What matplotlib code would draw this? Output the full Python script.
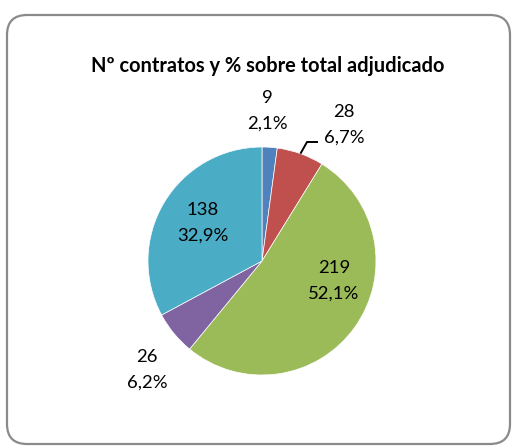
import numpy as np
import matplotlib
matplotlib.use("Agg")
import matplotlib.pyplot as plt
from matplotlib.patches import FancyBboxPatch

# Data
categories = ["A", "B", "C", "D", "E"]
counts = [9, 28, 219, 26, 138]
pct_labels = ["2,1%", "6,7%", "52,1%", "6,2%", "32,9%"]
colors = ["#4F81BD", "#C0504D", "#9BBB59", "#8064A2", "#4BACC6"]
title = "Nº contratos y % sobre total adjudicado"

W, H = 517, 448
fig = plt.figure(figsize=(W / 100, H / 100), dpi=100)
fig.patch.set_facecolor("white")

ax = fig.add_axes([0, 0, 1, 1])
ax.set_xlim(0, W)
ax.set_ylim(0, H)
ax.set_aspect("equal")
ax.axis("off")

# Rounded border (pixel coords)
border = FancyBboxPatch((7, H - 444), 503, 429,
                        boxstyle="round,pad=0,rounding_size=20",
                        fill=False, edgecolor="#8A8A8A", linewidth=1.6,
                        clip_on=False)
ax.add_patch(border)

cx, cy, r = 262, H - 261, 114
wedges, _ = ax.pie(counts, colors=colors, startangle=90, counterclock=False,
                   center=(cx, cy), radius=r, frame=True,
                   wedgeprops=dict(edgecolor="white", linewidth=0.5))
ax.set_xlim(0, W)
ax.set_ylim(0, H)
ax.axis("off")

font = "Lato"
renderer = fig.canvas.get_renderer()


def fit_size(s, target_w, weight="normal", base=12):
    t = ax.text(0, 0, s, fontsize=base, family=font, fontweight=weight)
    w = t.get_window_extent(renderer).width
    t.remove()
    return base * target_w / w


title_fs = fit_size(title, 350, "bold")
ax.text(268, H - 72, title, ha="center", va="baseline", fontsize=title_fs,
        fontweight="bold", family=font)

lab_fs = fit_size("52,1%", 51)

# label line baselines (x center, baseline y of first line from top)
label_pos = [(267, 103), (344, 117), (334, 273), (147, 362), (203, 215)]
for n, p, (lx, ly) in zip(counts, pct_labels, label_pos):
    ax.text(lx, H - ly, f"{n}", ha="center", va="baseline",
            fontsize=lab_fs, family=font, color="black")
    ax.text(lx, H - ly - 26, p, ha="center", va="baseline",
            fontsize=lab_fs, family=font, color="black")

# leader line for second slice
w = wedges[1]
mid = np.deg2rad((w.theta1 + w.theta2) / 2)
sx, sy = cx + r * np.cos(mid), cy + r * np.sin(mid)
ax.plot([sx, 307, 318], [sy, H - 142, H - 142], color="black", lw=1.4,
        solid_capstyle="butt")

fig.savefig("out.png", dpi=100, facecolor="white")
